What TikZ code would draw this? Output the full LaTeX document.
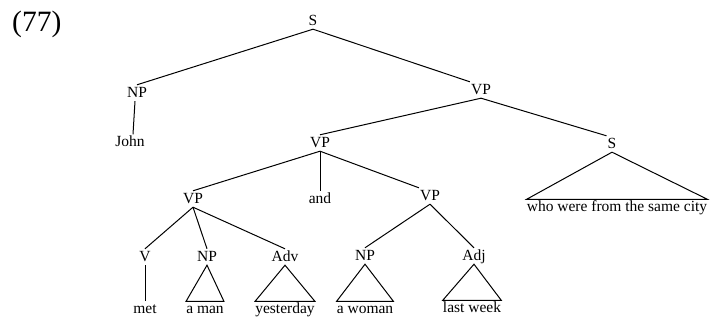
\documentclass[tikz,border=0pt]{standalone}
\usepackage{fontspec}
\setmainfont{Liberation Serif}
\begin{document}
\begin{tikzpicture}[x=1pt,y=-1pt,
  lab/.style={anchor=base,font=\fontsize{15.5}{18}\selectfont,inner xsep=1pt,inner ysep=3pt,text height=10pt,text depth=0pt},
  term/.style={anchor=base,font=\fontsize{15.5}{18}\selectfont,inner xsep=0pt,inner ysep=1.5pt,text height=11pt,text depth=3.5pt},
  br/.style={line width=1pt}]
\useasboundingbox (0,0) rectangle (713,320);
\node[anchor=base west,inner sep=0pt,font=\fontsize{29.5}{34}\selectfont] (num) at (12,31.5) {(77)};
% nonterminals
\node[lab] (S0) at (313,26) {S};
\node[lab] (NP1) at (137,98) {NP};
\node[lab] (VP1) at (481,95) {VP};
\node[lab] (S2) at (612,149) {S};
\node[lab] (VP2) at (320,148) {VP};
\node[lab] (VP3) at (193,204) {VP};
\node[lab] (VP4) at (430,201) {VP};
\node[lab] (V) at (145,262) {V};
\node[lab] (NP5) at (207,262) {NP};
\node[lab] (Adv) at (285,262) {Adv};
\node[lab] (NP6) at (365,261) {NP};
\node[lab] (Adj) at (474,261) {Adj};
% terminals
\node[term] (John) at (130,147) {John};
\node[term] (and) at (320,204) {and};
\node[term] (met) at (145,314) {met};
\node[term] (aman) at (205,314) {a man};
\node[term] (yest) at (285,314) {yesterday};
\node[term] (awoman) at (365,314) {a woman};
\node[term] (lastweek) at (472,313) {last week};
\node[term] (who) at (617,212) {who were from the same city};
% branches
\draw[br] (S0.south) -- (NP1.north);
\draw[br] (S0.south) -- (VP1.north west);
\draw[br] ([xshift=-2pt]NP1.south) -- ([xshift=3pt]John.north);
\draw[br] (VP1.south) -- (VP2.north);
\draw[br] (VP1.south) -- (S2.north west);
\draw[br] (VP2.south) -- (VP3.north);
\draw[br] (VP2.south) -- (and.north);
\draw[br] (VP2.south) -- (VP4.north west);
\draw[br] (VP3.south) -- (V.north);
\draw[br] (VP3.south) -- (NP5.north);
\draw[br] (VP3.south) -- (Adv.north);
\draw[br] (V.south) -- (met.north);
\draw[br] (VP4.south) -- (NP6.north);
\draw[br] (VP4.south) -- (Adj.north);
% triangles
\draw[br] (S2.south) -- (who.north west) -- (who.north east) -- cycle;
\draw[br] (NP5.south) -- (aman.north west) -- (aman.north east) -- cycle;
\draw[br] (Adv.south) -- (yest.north west) -- (yest.north east) -- cycle;
\draw[br] (NP6.south) -- (awoman.north west) -- (awoman.north east) -- cycle;
\draw[br] (Adj.south) -- (lastweek.north west) -- (lastweek.north east) -- cycle;
\end{tikzpicture}
\end{document}
